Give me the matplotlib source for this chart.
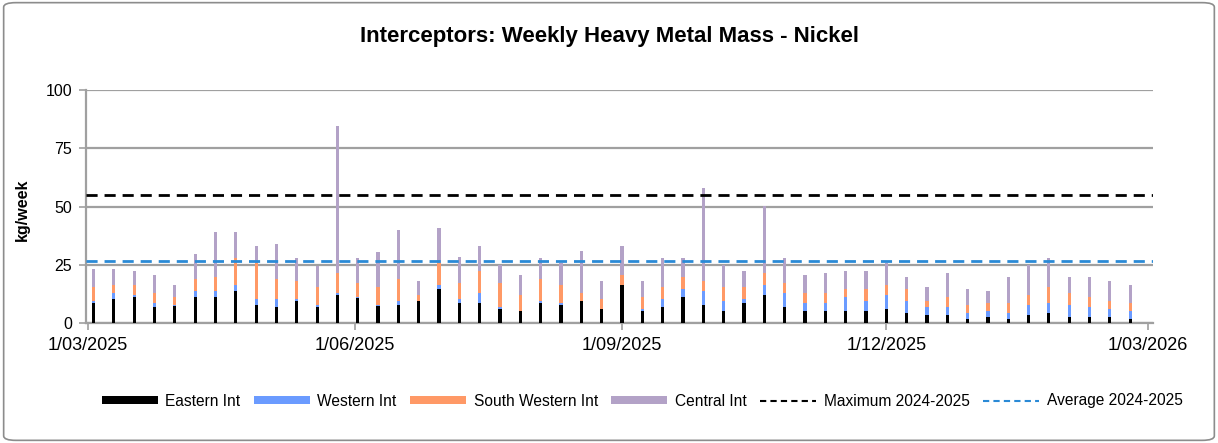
import matplotlib.pyplot as plt
import matplotlib.dates as mdates
from matplotlib.patches import FancyBboxPatch, Patch
from matplotlib.lines import Line2D
import numpy as np
import pandas as pd

plt.rcParams["font.family"] = ["Liberation Sans", "DejaVu Sans"]

weeks = pd.date_range("2025-03-03", periods=52, freq="7D")

eastern = [8.6, 10.4, 11.2, 6.9, 7.2, 11.2, 11.2, 13.8, 7.8, 6.9, 9.5, 6.9, 12.1,
           10.7, 7.2, 7.8, 9.5, 14.7, 8.6, 8.6, 6.1, 5.2, 8.6, 7.8, 9.5, 6.1,
           16.4, 5.2, 6.9, 11.2, 7.8, 5.2, 8.6, 12.1, 6.9, 5.2, 5.0, 5.2, 5.2,
           6.1, 4.3, 3.5, 3.5, 1.7, 2.6, 1.7, 3.5, 4.3, 2.6, 2.6, 2.6, 1.7]
western = [0.8, 2.6, 0.9, 1.7, 0.7, 2.6, 2.6, 2.6, 2.6, 3.5, 0.9, 0.9, 0.9,
           0.5, 0.6, 1.7, 0.0, 1.7, 1.8, 4.4, 0.8, 0.0, 0.9, 0.8, 0.0, 0.0,
           0.0, 0.9, 3.5, 3.5, 6.0, 4.3, 1.8, 4.3, 6.1, 3.4, 3.6, 6.0, 4.3,
           6.0, 5.2, 3.4, 3.4, 2.6, 2.6, 2.6, 4.3, 4.3, 5.2, 4.3, 3.5, 3.5]
south_western = [6.2, 3.4, 4.3, 4.4, 3.3, 5.2, 6.1, 11.3, 15.5, 8.6, 7.8, 7.8, 8.6,
                 6.1, 7.8, 9.5, 2.6, 9.5, 6.9, 9.5, 10.4, 6.9, 9.5, 7.8, 3.5, 4.3,
                 4.3, 5.1, 5.2, 5.2, 4.4, 6.1, 5.2, 5.2, 4.3, 4.4, 4.4, 3.5, 5.2,
                 4.3, 5.2, 2.6, 4.3, 3.5, 3.4, 4.3, 4.3, 7.0, 5.2, 4.3, 3.4, 3.4]
central = [7.7, 6.9, 6.1, 7.7, 5.2, 10.4, 19.0, 11.2, 7.0, 14.7, 9.5, 8.9, 63.1,
           10.4, 14.7, 20.8, 6.1, 14.7, 11.2, 10.4, 7.8, 8.6, 8.7, 9.5, 18.1, 7.8,
           12.2, 7.0, 12.1, 7.8, 39.7, 9.2, 6.9, 28.5, 10.4, 7.7, 8.6, 7.8, 7.8,
           9.5, 5.2, 6.1, 10.4, 6.9, 5.2, 11.3, 13.0, 12.1, 6.9, 8.7, 8.7, 7.8]

max_2425 = 55.0
avg_2425 = 26.7

series = [
    ("Eastern Int", eastern, "#000000"),
    ("Western Int", western, "#6b9bff"),
    ("South Western Int", south_western, "#ff9966"),
    ("Central Int", central, "#b3a2c7"),
]

fig = plt.figure(figsize=(12.18, 4.43), dpi=100)
ax = fig.add_axes([0.0706, 0.2709, 0.8760, 0.5259])

bottom = np.zeros(len(weeks))
for name, vals, col in series:
    ax.bar(weeks, vals, width=1.1, bottom=bottom, color=col, linewidth=0, zorder=3)
    bottom += np.array(vals)

x0 = pd.Timestamp("2025-02-28 10:00")
x1 = pd.Timestamp("2026-03-02 20:00")
ax.plot([x0, x1], [max_2425, max_2425], color="black", lw=2, ls=(0, (4, 2.5)), zorder=4)
ax.plot([x0, x1], [avg_2425, avg_2425], color="#2a8ad6", lw=2, ls=(0, (4, 2.5)), zorder=4)

ax.set_xlim(x0, x1)
ax.set_ylim(0, 100)
ax.set_yticks([0, 25, 50, 75, 100])
ax.yaxis.grid(True, color="#a0a0a0", lw=1.6, zorder=1)

ax.xaxis.set_major_locator(mdates.MonthLocator(bymonth=[3, 6, 9, 12], bymonthday=1))
ax.xaxis.set_major_formatter(
    plt.FuncFormatter(lambda v, p: (lambda d: f"{d.day}/{d.month:02d}/{d.year}")(mdates.num2date(v)))
)

for s in ["top", "right"]:
    ax.spines[s].set_visible(False)
for s in ["left", "bottom"]:
    ax.spines[s].set_color("#a0a0a0")
    ax.spines[s].set_linewidth(1.6)
ax.tick_params(axis="both", colors="#a0a0a0", labelcolor="black", length=5, width=1.2)
ax.tick_params(axis="x", pad=5, labelsize=13)
ax.tick_params(axis="y", pad=5, labelsize=11.5)

fig.text(0.5, 0.9165, "Interceptors: Weekly Heavy Metal Mass - Nickel",
         ha="center", va="center", fontsize=16, fontweight="bold")
fig.text(22 / 1218, 1 - 210 / 443, "kg/week", rotation=90, ha="center", va="center",
         fontsize=11.5, fontweight="bold")

handles = [Patch(facecolor=c, edgecolor="none") for _, _, c in series]
handles += [Line2D([], [], color="black", lw=1.5, ls=(0, (3, 2))),
            Line2D([], [], color="#2a8ad6", lw=1.5, ls=(0, (3, 2)))]
labels = [n for n, _, _ in series] + ["Maximum 2024-2025", "Average 2024-2025"]
fig.legend(handles, labels, loc="center", bbox_to_anchor=(642 / 1218, 1 - 401 / 443),
           ncol=6, frameon=False, fontsize=11.2, handlelength=3.6, handleheight=0.5,
           handletextpad=0.5, columnspacing=0.85)

border = FancyBboxPatch((0.003, 0.006), 0.994, 0.988, boxstyle="round,pad=0,rounding_size=0.01",
                        transform=fig.transFigure, facecolor="none", edgecolor="#8c8c8c", lw=1.2)
fig.patches.append(border)

fig.savefig("out.png", dpi=100)
